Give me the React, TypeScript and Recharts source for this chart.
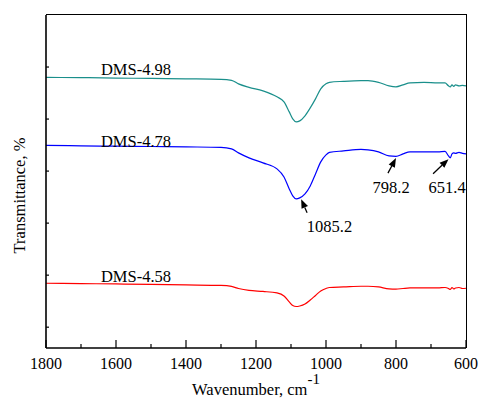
import React from 'react';
import { LineChart, Line, XAxis, YAxis, ReferenceDot, ReferenceLine } from 'recharts';

// wavenumber grid, cm-1
const wavenumbers = [
  1800, 1700, 1600, 1500, 1400, 1300, 1270, 1250, 1220, 1180, 1140, 1120, 1105, 1095, 1085,
  1075, 1060, 1045, 1030, 1015, 1000, 990, 950, 900, 880, 850, 820, 800, 780, 760, 720, 680,
  660, 650, 645, 640, 635, 630, 620, 610, 600,
];

// offset transmittance curves (arbitrary units)
const dms498 = [
  5.2, 5.196, 5.188, 5.181, 5.173, 5.163, 5.144, 5.077, 5.01, 4.942, 4.827, 4.731, 4.538, 4.404,
  4.346, 4.365, 4.462, 4.615, 4.788, 4.981, 5.077, 5.106, 5.125, 5.138, 5.138, 5.106, 5.038,
  5.019, 5.058, 5.096, 5.106, 5.096, 5.096, 5.038, 5.019, 5.058, 5.029, 5.058, 5.038, 5.048, 5.038,
];
const dms478 = [
  3.894, 3.885, 3.879, 3.873, 3.865, 3.856, 3.827, 3.75, 3.654, 3.558, 3.442, 3.288, 3.058, 2.923,
  2.865, 2.885, 2.962, 3.115, 3.346, 3.577, 3.712, 3.76, 3.788, 3.817, 3.808, 3.769, 3.692,
  3.683, 3.731, 3.769, 3.769, 3.769, 3.779, 3.692, 3.654, 3.731, 3.75, 3.74, 3.76, 3.74, 3.731,
];
const dms458 = [
  1.244, 1.238, 1.231, 1.221, 1.212, 1.202, 1.183, 1.144, 1.106, 1.087, 1.058, 1.0, 0.885, 0.817,
  0.798, 0.808, 0.846, 0.923, 1.01, 1.096, 1.144, 1.163, 1.173, 1.187, 1.187, 1.173, 1.135,
  1.131, 1.144, 1.154, 1.154, 1.154, 1.163, 1.144, 1.125, 1.163, 1.135, 1.154, 1.163, 1.144, 1.148,
];

const X_MIN = 600;
const X_MAX = 1800;
const Y_MAX = 6.4;
const xTicks = [1800, 1700, 1600, 1500, 1400, 1300, 1200, 1100, 1000, 900, 800, 700, 600];
const yTicks = [0.4, 1.4, 2.4, 3.4, 4.4, 5.4];

// sample name labels: [text, wavenumber, level]
const seriesLabels: [string, number, number][] = [
  ['DMS-4.98', 1643, 5.25],
  ['DMS-4.78', 1643, 3.87],
  ['DMS-4.58', 1643, 1.27],
];

// peak callouts: [text, text wavenumber, text level, arrow tail w, tail level, tip w, tip level]
const peaks: [string, number, number, number, number, number, number][] = [
  ['1085.2', 990, 2.23, 1054, 2.6, 1071, 2.86],
  ['798.2', 814, 2.98, 823, 3.36, 800, 3.65],
  ['651.4', 654, 2.98, 694, 3.35, 650, 3.63],
];

const data = wavenumbers.map((w, i) => ({ w, a: dms498[i], b: dms478[i], c: dms458[i] }));

const serif: React.CSSProperties = { fontFamily: "'Liberation Serif', 'Times New Roman', serif" };

// chart box (matches the LineChart margins / axis sizes below)
const MARGIN = { top: 15, right: 15, bottom: 0, left: 0 };
const Y_AXIS_W = 46;
const X_AXIS_H = 51;
const W = 481;
const H = 399;

const BottomTick = (props: any) => {
  const { x, y, payload } = props;
  const major = payload.value % 200 === 0;
  return (
    <g>
      <line x1={x} x2={x} y1={y} y2={y - (major ? 8 : 4)} stroke="#000" strokeWidth={1.2} />
      {major && (
        <text x={x} y={y + 21} textAnchor="middle" style={serif} fontSize={16} fill="#000">
          {payload.value}
        </text>
      )}
    </g>
  );
};

const LeftTick = (props: any) => {
  const { x, y } = props;
  return <line x1={x} x2={x + 3} y1={y} y2={y} stroke="#000" strokeWidth={1.2} />;
};

const Arrow = (props: any) => {
  const { x1, y1, x2, y2 } = props;
  const ang = Math.atan2(y2 - y1, x2 - x1);
  const len = 9;
  const half = 3.5;
  const bx = x2 - len * Math.cos(ang);
  const by = y2 - len * Math.sin(ang);
  const px = -Math.sin(ang) * half;
  const py = Math.cos(ang) * half;
  return (
    <g>
      <line x1={x1} y1={y1} x2={bx} y2={by} stroke="#000" strokeWidth={1.3} />
      <polygon points={`${x2},${y2} ${bx + px},${by + py} ${bx - px},${by - py}`} fill="#000" />
    </g>
  );
};

const textLabel = (value: string, anchor: 'start' | 'middle') => (p: any) => {
  const vb = p.viewBox;
  return (
    <text x={vb.x} y={vb.y} textAnchor={anchor} style={serif} fontSize={16.5} fill="#000">
      {value}
    </text>
  );
};

export default function App() {
  const plotW = W - MARGIN.right - Y_AXIS_W;
  const plotH = H - MARGIN.top - X_AXIS_H;
  return (
    <div style={{ position: 'relative', width: W, height: H, background: '#fff' }}>
      <style>{'body{margin:0}'}</style>
      <LineChart width={W} height={H} data={data} margin={MARGIN}>
        <XAxis
          dataKey="w"
          type="number"
          domain={[X_MIN, X_MAX]}
          reversed
          ticks={xTicks}
          interval={0}
          tickSize={0}
          tickMargin={0}
          tickLine={false}
          tick={BottomTick}
          height={X_AXIS_H}
          axisLine={{ stroke: '#000', strokeWidth: 1.6 }}
          label={{
            content: (p: any) => {
              const vb = p.viewBox;
              return (
                <text x={vb.x + vb.width / 2} y={vb.y + 47} textAnchor="middle" style={serif} fontSize={16.5} fill="#000">
                  Wavenumber, cm
                  <tspan dy={-11} fontSize={15}>-1</tspan>
                </text>
              );
            },
          }}
        />
        <YAxis
          type="number"
          domain={[0, Y_MAX]}
          ticks={yTicks}
          interval={0}
          tickSize={0}
          tickMargin={0}
          tickLine={false}
          tick={LeftTick}
          width={Y_AXIS_W}
          axisLine={{ stroke: '#000', strokeWidth: 1.6 }}
          label={{
            content: (p: any) => {
              const vb = p.viewBox;
              const cx = 25;
              const cy = vb.y + vb.height / 2 + 14;
              return (
                <text x={cx} y={cy} transform={`rotate(-90 ${cx} ${cy})`} textAnchor="middle" style={serif} fontSize={16.5} fill="#000">
                  Transmittance, %
                </text>
              );
            },
          }}
        />
        <Line dataKey="a" type="monotone" stroke="#1a8f8b" strokeWidth={1.2} dot={false} isAnimationActive={false} />
        <Line dataKey="b" type="monotone" stroke="#0000ff" strokeWidth={1.2} dot={false} isAnimationActive={false} />
        <Line dataKey="c" type="monotone" stroke="#ff0000" strokeWidth={1.2} dot={false} isAnimationActive={false} />
        {seriesLabels.map(([t, w, v]) => (
          <ReferenceDot key={t} x={w} y={v} r={0} stroke="none" fill="none" label={{ content: textLabel(t, 'start') }} />
        ))}
        {peaks.map(([t, tw, tv, x1, y1, x2, y2]) => (
          <React.Fragment key={t}>
            <ReferenceLine segment={[{ x: x1, y: y1 }, { x: x2, y: y2 }]} shape={Arrow} />
            <ReferenceDot x={tw} y={tv} r={0} stroke="none" fill="none" label={{ content: textLabel(t, 'middle') }} />
          </React.Fragment>
        ))}
      </LineChart>
      {/* top and right edges of the plot frame */}
      <div
        style={{
          position: 'absolute',
          left: Y_AXIS_W,
          top: MARGIN.top - 0.8,
          width: plotW + 0.8,
          height: plotH + 0.8,
          borderTop: '1.6px solid #000',
          borderRight: '1.6px solid #000',
          boxSizing: 'border-box',
          pointerEvents: 'none',
        }}
      />
    </div>
  );
}
